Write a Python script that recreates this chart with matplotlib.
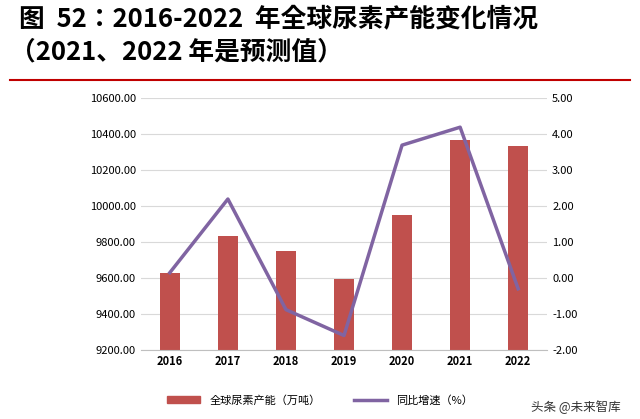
import glob
import matplotlib.pyplot as plt
import matplotlib as mpl
from matplotlib import font_manager
from matplotlib.lines import Line2D

# locate a CJK font file and register it
cjk = 'DejaVu Sans'
files = [f for f in glob.glob('/usr/share/fonts/**/*', recursive=True) if 'CJK' in f or 'cjk' in f]
for f in sorted(files):
    try:
        font_manager.fontManager.addfont(f)
        name = font_manager.FontProperties(fname=f).get_name()
        if 'SC' in name or cjk == 'DejaVu Sans':
            cjk = name
    except Exception:
        pass
mpl.rcParams['font.family'] = [cjk, 'DejaVu Sans']

years = ['2016', '2017', '2018', '2019', '2020', '2021', '2022']
capacity = [9630, 9835, 9750, 9595, 9950, 10370, 10335]
growth = [0.15, 2.2, -0.88, -1.6, 3.7, 4.2, -0.3]

fig = plt.figure(figsize=(6.4, 4.19), dpi=100)
fig.text(0.03, 0.955, '图  52：2016-2022  年全球尿素产能变化情况', fontsize=18.5,
         fontweight='bold', va='center')
fig.text(0.015, 0.875, '（2021、2022 年是预测值）', fontsize=18.5, fontweight='bold', va='center')
fig.add_artist(Line2D([0.015, 0.985], [0.81, 0.81], color='#c00000', lw=1.5))

ax = fig.add_axes([0.22, 0.165, 0.635, 0.6])
x = range(len(years))
ax.bar(x, capacity, width=0.35, color='#c0504d', zorder=2)
ax.set_ylim(9200, 10600)
ax.set_yticks(range(9200, 10601, 200))
ax.set_yticklabels(['%.2f' % v for v in range(9200, 10601, 200)])
ax.set_xticks(list(x))
ax.set_xticklabels(years, fontweight='bold')
ax.set_xlim(-0.5, 6.5)
ax.grid(axis='y', color='#d9d9d9', lw=0.8, zorder=0)
for s in ['top', 'right', 'left']:
    ax.spines[s].set_visible(False)
ax.spines['bottom'].set_color('#bfbfbf')
ax.tick_params(length=0, labelsize=8)

ax2 = ax.twinx()
ax2.plot(x, growth, color='#8064a2', lw=2.5)
ax2.set_ylim(-2, 5)
ax2.set_yticks(range(-2, 6))
ax2.set_yticklabels(['%.2f' % v for v in range(-2, 6)])
for s in ax2.spines.values():
    s.set_visible(False)
ax2.tick_params(length=0, labelsize=8)

handles = [mpl.patches.Patch(color='#c0504d'), Line2D([], [], color='#8064a2', lw=2.5)]
fig.legend(handles, ['全球尿素产能（万吨）', '同比增速（%）'], loc='center',
           bbox_to_anchor=(0.5, 0.045), ncol=2, frameon=False, fontsize=8,
           handlelength=3, columnspacing=3)
fig.text(0.97, 0.02, '头条 @未来智库', fontsize=9, ha='right', color='#333333')
fig.savefig('out.png', dpi=100)
